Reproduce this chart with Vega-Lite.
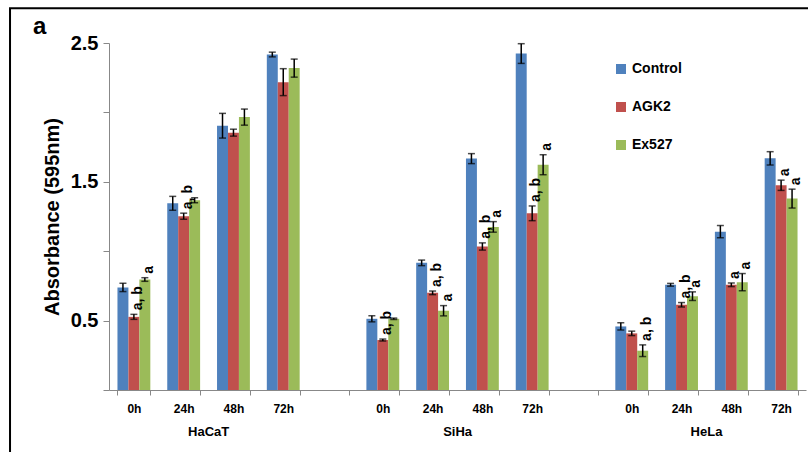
{
  "$schema": "https://vega.github.io/schema/vega-lite/v6.json",
  "autosize": {"type": "none"},
  "padding": {"left": 109, "top": 43, "right": 2, "bottom": 62},
  "width": 697,
  "height": 347,
  "background": "white",
  "config": {"font": "Liberation Sans", "view": {"stroke": null}},
  "datasets": {
    "bars": [
      {"slot": "HaCaT 0h", "series": "Control", "value": 0.739, "lo": 0.709, "hi": 0.769},
      {"slot": "HaCaT 0h", "series": "AGK2", "value": 0.527, "lo": 0.509, "hi": 0.545, "sig": "a, b"},
      {"slot": "HaCaT 0h", "series": "Ex527", "value": 0.796, "lo": 0.783, "hi": 0.809, "sig": "a"},
      {"slot": "HaCaT 24h", "series": "Control", "value": 1.345, "lo": 1.295, "hi": 1.395},
      {"slot": "HaCaT 24h", "series": "AGK2", "value": 1.252, "lo": 1.23, "hi": 1.274, "sig": "a, b"},
      {"slot": "HaCaT 24h", "series": "Ex527", "value": 1.367, "lo": 1.349, "hi": 1.385},
      {"slot": "HaCaT 48h", "series": "Control", "value": 1.904, "lo": 1.815, "hi": 1.993},
      {"slot": "HaCaT 48h", "series": "AGK2", "value": 1.854, "lo": 1.829, "hi": 1.879},
      {"slot": "HaCaT 48h", "series": "Ex527", "value": 1.966, "lo": 1.908, "hi": 2.024},
      {"slot": "HaCaT 72h", "series": "Control", "value": 2.417, "lo": 2.4, "hi": 2.434},
      {"slot": "HaCaT 72h", "series": "AGK2", "value": 2.218, "lo": 2.121, "hi": 2.315},
      {"slot": "HaCaT 72h", "series": "Ex527", "value": 2.319, "lo": 2.254, "hi": 2.384},
      {"slot": "SiHa 0h", "series": "Control", "value": 0.513, "lo": 0.491, "hi": 0.535},
      {"slot": "SiHa 0h", "series": "AGK2", "value": 0.36, "lo": 0.353, "hi": 0.367, "sig": "a, b"},
      {"slot": "SiHa 0h", "series": "Ex527", "value": 0.513, "lo": 0.508, "hi": 0.518},
      {"slot": "SiHa 24h", "series": "Control", "value": 0.916, "lo": 0.896, "hi": 0.936},
      {"slot": "SiHa 24h", "series": "AGK2", "value": 0.7, "lo": 0.687, "hi": 0.713, "sig": "a, b"},
      {"slot": "SiHa 24h", "series": "Ex527", "value": 0.571, "lo": 0.534, "hi": 0.608, "sig": "a"},
      {"slot": "SiHa 48h", "series": "Control", "value": 1.667, "lo": 1.631, "hi": 1.703},
      {"slot": "SiHa 48h", "series": "AGK2", "value": 1.034, "lo": 1.008, "hi": 1.06, "sig": "a, b"},
      {"slot": "SiHa 48h", "series": "Ex527", "value": 1.175, "lo": 1.137, "hi": 1.213, "sig": "a"},
      {"slot": "SiHa 72h", "series": "Control", "value": 2.424, "lo": 2.353, "hi": 2.495},
      {"slot": "SiHa 72h", "series": "AGK2", "value": 1.273, "lo": 1.22, "hi": 1.326, "sig": "a, b"},
      {"slot": "SiHa 72h", "series": "Ex527", "value": 1.623, "lo": 1.551, "hi": 1.695, "sig": "a"},
      {"slot": "HeLa 0h", "series": "Control", "value": 0.458, "lo": 0.432, "hi": 0.484},
      {"slot": "HeLa 0h", "series": "AGK2", "value": 0.408, "lo": 0.392, "hi": 0.424},
      {"slot": "HeLa 0h", "series": "Ex527", "value": 0.283, "lo": 0.241, "hi": 0.325, "sig": "a, b"},
      {"slot": "HeLa 24h", "series": "Control", "value": 0.758, "lo": 0.748, "hi": 0.768},
      {"slot": "HeLa 24h", "series": "AGK2", "value": 0.614, "lo": 0.598, "hi": 0.63, "sig": "a, b"},
      {"slot": "HeLa 24h", "series": "Ex527", "value": 0.676, "lo": 0.645, "hi": 0.707, "sig": "a"},
      {"slot": "HeLa 48h", "series": "Control", "value": 1.141, "lo": 1.097, "hi": 1.185},
      {"slot": "HeLa 48h", "series": "AGK2", "value": 0.758, "lo": 0.745, "hi": 0.771, "sig": "a"},
      {"slot": "HeLa 48h", "series": "Ex527", "value": 0.777, "lo": 0.715, "hi": 0.839, "sig": "a"},
      {"slot": "HeLa 72h", "series": "Control", "value": 1.669, "lo": 1.621, "hi": 1.717},
      {"slot": "HeLa 72h", "series": "AGK2", "value": 1.475, "lo": 1.438, "hi": 1.512, "sig": "a"},
      {"slot": "HeLa 72h", "series": "Ex527", "value": 1.379, "lo": 1.311, "hi": 1.447, "sig": "a"}
    ],
    "groups": [
      {"slot": "HaCaT 24h", "group": "HaCaT"},
      {"slot": "SiHa 24h", "group": "SiHa"},
      {"slot": "HeLa 24h", "group": "HeLa"}
    ],
    "frame": [{"panel": "a"}]
  },
  "resolve": {"scale": {"x": "independent", "y": "independent"}, "axis": {"x": "independent", "y": "independent"}},
  "layer": [
    {
      "data": {"name": "frame"},
      "layer": [
        {
          "mark": {"type": "rect", "fill": "transparent", "stroke": "black", "strokeWidth": 2, "clip": false},
          "encoding": {
            "x": {"datum": -0.142, "type": "quantitative", "scale": {"domain": [0, 1], "nice": false, "zero": false}, "axis": null},
            "x2": {"datum": 1.05},
            "y": {"datum": 2.75, "type": "quantitative", "scale": {"domain": [0, 2.5], "nice": false, "zero": false}, "axis": null},
            "y2": {"datum": -0.6}
          }
        },
        {
          "mark": {"type": "text", "align": "left", "baseline": "alphabetic", "fontSize": 24, "fontWeight": "bold", "color": "black", "clip": false},
          "encoding": {
            "x": {"datum": -0.109, "type": "quantitative", "axis": null},
            "y": {"datum": 2.565, "type": "quantitative", "axis": null},
            "text": {"field": "panel"}
          }
        }
      ]
    },
    {
      "layer": [
        {
          "data": {"name": "bars"},
          "mark": {"type": "bar"},
          "encoding": {
            "x": {
              "field": "slot", "type": "nominal",
              "scale": {
                "domain": ["HaCaT 0h", "HaCaT 24h", "HaCaT 48h", "HaCaT 72h", "gap1", "SiHa 0h", "SiHa 24h", "SiHa 48h", "SiHa 72h", "gap2", "HeLa 0h", "HeLa 24h", "HeLa 48h", "HeLa 72h"],
                "paddingInner": 0.34, "paddingOuter": 0.17
              },
              "axis": {
                "orient": "bottom", "title": null, "labelAngle": 0,
                "labelExpr": "test(/^gap/, datum.label) ? '' : replace(datum.label, /^[A-Za-z]+ /, '')",
                "labelFontSize": 12, "labelFontWeight": "bold", "labelColor": "black",
                "tickBand": "extent", "tickSize": 5, "tickColor": "#888888", "domainColor": "#888888",
                "labelPadding": 8, "grid": false
              }
            },
            "xOffset": {"field": "series", "type": "nominal", "scale": {"domain": ["Control", "AGK2", "Ex527"], "paddingInner": 0, "paddingOuter": 0}},
            "y": {
              "field": "value", "type": "quantitative", "title": "Absorbance (595nm)",
              "scale": {"domain": [0, 2.5], "nice": false},
              "axis": {
                "orient": "left",
                "title": "Absorbance (595nm)", "titleFontSize": 20, "titleFontWeight": "bold", "titleColor": "black", "titlePadding": 8,
                "values": [0, 0.5, 1, 1.5, 2, 2.5],
                "labelExpr": "(datum.value == 0.5 || datum.value == 1.5 || datum.value == 2.5) ? format(datum.value, '.1f') : ''",
                "labelFontSize": 20, "labelFontWeight": "bold", "labelColor": "black", "labelPadding": 5,
                "tickSize": 6, "tickColor": "#888888", "domainColor": "#888888", "grid": false
              }
            },
            "color": {
              "field": "series", "type": "nominal",
              "scale": {"domain": ["Control", "AGK2", "Ex527"], "range": ["#4F81BD", "#C0504D", "#9BBB59"]},
              "legend": {
                "orient": "none", "legendX": 505, "legendY": 19, "title": null,
                "symbolType": "square", "symbolSize": 100, "symbolStrokeWidth": 0,
                "labelFontSize": 14, "labelFontWeight": "bold", "labelColor": "black",
                "rowPadding": 24, "labelOffset": 4, "padding": 0
              }
            }
          }
        },
        {
          "data": {"name": "bars"},
          "mark": {"type": "errorbar", "ticks": true, "size": 7, "thickness": 1.5, "color": "black"},
          "encoding": {
            "x": {"field": "slot", "type": "nominal"},
            "xOffset": {"field": "series", "type": "nominal"},
            "y": {"field": "lo", "type": "quantitative", "title": "Absorbance (595nm)"},
            "y2": {"field": "hi"}
          }
        },
        {
          "data": {"name": "bars"},
          "transform": [{"filter": "datum.sig"}],
          "mark": {"type": "text", "angle": 270, "align": "left", "baseline": "middle", "dx": 4, "dy": 4, "fontSize": 14, "fontWeight": "bold", "color": "black"},
          "encoding": {
            "x": {"field": "slot", "type": "nominal"},
            "xOffset": {"field": "series", "type": "nominal"},
            "y": {"field": "hi", "type": "quantitative", "title": "Absorbance (595nm)"},
            "text": {"field": "sig"}
          }
        },
        {
          "data": {"name": "groups"},
          "mark": {"type": "text", "align": "center", "baseline": "middle", "fontSize": 13, "fontWeight": "bold", "color": "black"},
          "encoding": {
            "x": {"field": "slot", "type": "nominal", "bandPosition": 1.26},
            "y": {"datum": -0.3, "type": "quantitative", "title": "Absorbance (595nm)"},
            "text": {"field": "group"}
          }
        }
      ]
    }
  ]
}
